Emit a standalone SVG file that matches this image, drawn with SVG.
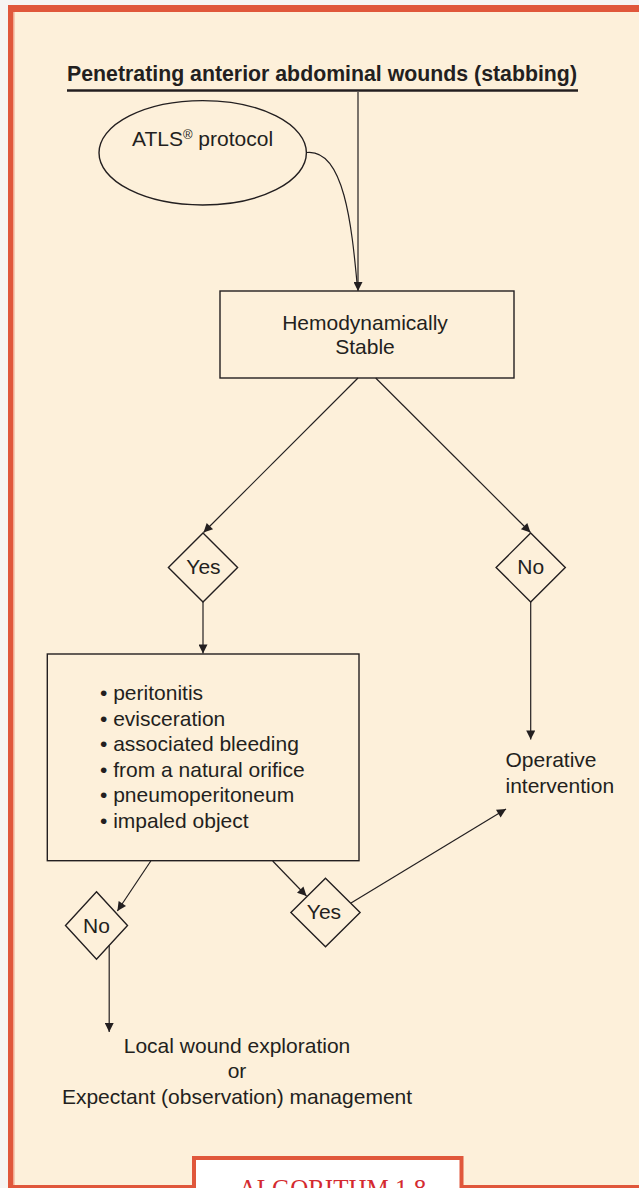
<svg xmlns="http://www.w3.org/2000/svg" width="639" height="1188" viewBox="0 0 639 1188">
  <style>
    .txt { font-family: "Liberation Sans", Arial, Helvetica, sans-serif; font-size: 21px; fill: #231f20; }
    .title { font-weight: bold; font-size: 21.3px; }
    .shape { fill: none; stroke: #231f20; stroke-width: 1.4; }
    .conn { fill: none; stroke: #231f20; stroke-width: 1.2; }
    .label { font-family: "Liberation Serif", "Times New Roman", serif; font-size: 25px; fill: #d42a2f; }
  </style>
  <defs>
    <marker id="arrow" viewBox="0 0 10 10" refX="10" refY="5" markerWidth="11" markerHeight="9" markerUnits="userSpaceOnUse" orient="auto">
      <path d="M0,0 L10,5 L0,10 z" fill="#231f20"/>
    </marker>
  </defs>

  <!-- page and frame -->
  <rect x="0" y="0" width="639" height="1188" fill="#f6f4f2"/>
  <rect x="8" y="5" width="640" height="1190" fill="#e0573b"/>
  <rect x="13.5" y="12" width="640" height="1173" fill="#fdf0da"/>
  <line x1="14.2" y1="12" x2="14.2" y2="1185" stroke="#f2b8a0" stroke-width="1"/>

  <!-- title -->
  <g id="title">
    <text class="txt title" x="67" y="81">Penetrating anterior abdominal wounds (stabbing)</text>
    <line x1="67" y1="90.5" x2="578" y2="90.5" stroke="#231f20" stroke-width="2.6"/>
  </g>

  <!-- connectors -->
  <g id="connectors">
    <line class="conn" x1="358" y1="92" x2="358" y2="291" marker-end="url(#arrow)"/>
    <path class="conn" d="M306.5,152.5 C345,148 352,230 357.5,288"/>
    <line class="conn" x1="358" y1="378" x2="203.5" y2="532.5" marker-end="url(#arrow)"/>
    <line class="conn" x1="375.7" y1="378" x2="530.5" y2="532.5" marker-end="url(#arrow)"/>
    <line class="conn" x1="203" y1="602" x2="203" y2="653.5" marker-end="url(#arrow)"/>
    <line class="conn" x1="530.7" y1="602" x2="530.7" y2="739.5" marker-end="url(#arrow)"/>
    <line class="conn" x1="150.8" y1="861" x2="117.4" y2="911" marker-end="url(#arrow)"/>
    <line class="conn" x1="272.7" y1="861" x2="306.5" y2="896" marker-end="url(#arrow)"/>
    <line class="conn" x1="351" y1="903" x2="506" y2="809" marker-end="url(#arrow)"/>
    <line class="conn" x1="109.2" y1="945.5" x2="109.2" y2="1032" marker-end="url(#arrow)"/>
  </g>

  <!-- nodes -->
  <g id="atls">
    <ellipse class="shape" cx="202.7" cy="152.8" rx="103.7" ry="52.2"/>
    <text class="txt" x="202.5" y="146" text-anchor="middle">ATLS<tspan font-size="13" baseline-shift="super">®</tspan> protocol</text>
  </g>

  <g id="hemodynamic">
    <rect class="shape" x="220" y="291" width="294" height="87"/>
    <text class="txt" x="365" y="329.5" text-anchor="middle">Hemodynamically</text>
    <text class="txt" x="365" y="354" text-anchor="middle">Stable</text>
  </g>

  <g id="yes-stable">
    <polygon class="shape" points="203,533 237.6,567.5 203,602 168.4,567.5"/>
    <text class="txt" x="203.5" y="574" text-anchor="middle">Yes</text>
  </g>

  <g id="no-stable">
    <polygon class="shape" points="530.7,533 565.3,567.5 530.7,602 496.1,567.5"/>
    <text class="txt" x="530.7" y="574" text-anchor="middle">No</text>
  </g>

  <g id="findings">
    <rect class="shape" x="47.3" y="654" width="311.7" height="206.7" stroke-width="2"/>
    <text class="txt" x="100" y="700">• peritonitis</text>
    <text class="txt" x="100" y="725.5">• evisceration</text>
    <text class="txt" x="100" y="751">• associated bleeding</text>
    <text class="txt" x="100" y="776.5">• from a natural orifice</text>
    <text class="txt" x="100" y="802">• pneumoperitoneum</text>
    <text class="txt" x="100" y="827.5">• impaled object</text>
  </g>

  <g id="operative">
    <text class="txt" x="505.5" y="767.3">Operative</text>
    <text class="txt" x="505.5" y="792.7">intervention</text>
  </g>

  <g id="no-findings">
    <polygon class="shape" points="96.5,891.7 127.5,925.5 96.5,959.3 65.5,925.5"/>
    <text class="txt" x="96.5" y="932.7" text-anchor="middle">No</text>
  </g>

  <g id="yes-findings">
    <polygon class="shape" points="325.5,878.3 360.1,912.5 325.5,946.7 290.9,912.5"/>
    <text class="txt" x="324" y="919.3" text-anchor="middle">Yes</text>
  </g>

  <g id="local-exploration">
    <text class="txt" x="237" y="1052.7" text-anchor="middle">Local wound exploration</text>
    <text class="txt" x="237" y="1078.3" text-anchor="middle">or</text>
    <text class="txt" x="237" y="1104.3" text-anchor="middle">Expectant (observation) management</text>
  </g>

  <!-- algorithm tab -->
  <g id="algorithm-tab">
    <rect x="192" y="1156" width="271.5" height="40" fill="#e0573b"/>
    <rect x="196" y="1160" width="263.5" height="40" fill="#ffffff"/>
    <text class="label" x="332.5" y="1196.5" text-anchor="middle">ALGORITHM 1.8</text>
  </g>
</svg>
